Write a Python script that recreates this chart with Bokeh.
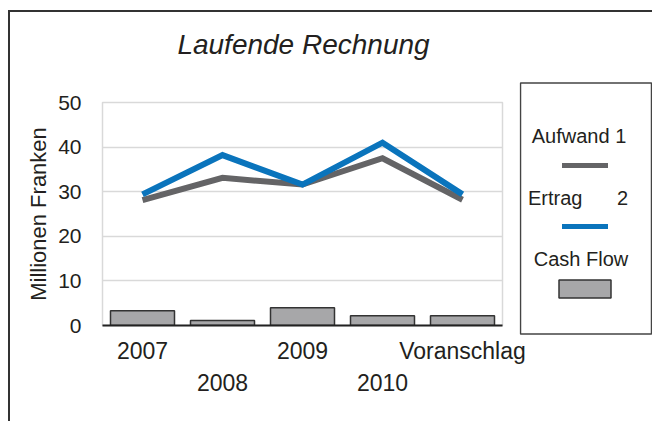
from bokeh.plotting import figure
from bokeh.layouts import row, column
from bokeh.models import (Range1d, FactorRange, CategoricalAxis, ColumnDataSource,
                          FixedTicker, CustomJSTickFormatter)
from bokeh.core.properties import value
from bokeh.embed import file_html
from bokeh.resources import INLINE

categories = ["2007", "2008", "2009", "2010", "Voranschlag"]
aufwand = [28.1, 33.1, 31.6, 37.5, 28.2]
ertrag = [29.4, 38.2, 31.6, 41.0, 29.4]
cash_flow = [3.3, 1.1, 4.0, 2.2, 2.2]
y_ticks = [0, 10, 20, 30, 40, 50]
row1_labels = ["2007", "2009", "Voranschlag"]
row2_labels = ["2008", "2010"]

title_text = "Laufende Rechnung"
y_label = "Millionen Franken"
legend_names = ["Aufwand 1", "Ertrag", "2", "Cash Flow"]

FONT = "Liberation Sans"
TXT = "#231f20"
GRAY = "#646466"
BLUE = "#0a74bc"
BAR = "#a7a7a9"


def blank_canvas(w, h, fill="white", **kw):
    f = figure(width=w, height=h, x_range=Range1d(0, w), y_range=Range1d(h, 0),
               output_backend="svg", toolbar_location=None,
               min_border_left=0, min_border_right=0, min_border_top=0, min_border_bottom=0,
               **kw)
    f.frame_align = False
    f.axis.visible = False
    f.grid.grid_line_color = None
    f.outline_line_color = None
    f.background_fill_color = fill
    f.border_fill_color = fill
    return f


# ---- title strip
tf = blank_canvas(642, 69)
tf.text(x=[293], y=[31.5], text=[title_text], text_font=value(FONT),
        text_font_size="28px", text_font_style="italic", text_color=TXT,
        text_align="center", text_baseline="alphabetic")

# ---- main chart
src = ColumnDataSource(dict(cat=categories, aufwand=aufwand, ertrag=ertrag, cash=cash_flow))

p = figure(width=523, height=340,
           x_range=FactorRange(factors=categories),
           y_range=Range1d(0, 50),
           output_backend="svg", toolbar_location=None,
           min_border_left=92, min_border_right=31,
           min_border_top=21, min_border_bottom=96)
p.frame_align = False
p.background_fill_color = "white"
p.border_fill_color = "white"
p.outline_line_color = "#d9d9d9"
p.outline_line_width = 1.5

p.vbar(x="cat", top="cash", width=0.8, source=src,
       fill_color=BAR, line_color="#333333", line_width=1.5)
p.line(x="cat", y="aufwand", source=src, line_width=6, line_color=GRAY, line_join="miter")
p.line(x="cat", y="ertrag", source=src, line_width=6, line_color=BLUE, line_join="miter")

p.xgrid.grid_line_color = None
p.ygrid.grid_line_color = "#d9d9d9"
p.ygrid.grid_line_width = 1.5

ya = p.yaxis[0]
ya.ticker = FixedTicker(ticks=y_ticks)
ya.axis_line_color = None
ya.major_tick_line_color = None
ya.minor_tick_line_color = None
ya.major_label_standoff = 15
ya.major_label_text_font = FONT
ya.major_label_text_font_size = "21px"
ya.major_label_text_color = TXT
ya.axis_label = y_label
ya.axis_label_text_font = FONT
ya.axis_label_text_font_size = "22px"
ya.axis_label_text_font_style = "normal"
ya.axis_label_text_color = TXT
ya.axis_label_standoff = 4

pick_code = "return keep.includes(tick) ? tick : ''"

xa = p.xaxis[0]
xa.axis_line_color = "#222222"
xa.axis_line_width = 2
xa.major_tick_line_color = None
xa.minor_tick_line_color = None
xa.major_label_standoff = 6
xa.major_label_text_font = FONT
xa.major_label_text_font_size = "23px"
xa.major_label_text_color = TXT
xa.formatter = CustomJSTickFormatter(args=dict(keep=row1_labels), code=pick_code)

xa2 = CategoricalAxis(axis_line_color=None, major_tick_line_color=None,
                      minor_tick_line_color=None, major_label_standoff=1,
                      major_label_text_font=FONT, major_label_text_font_size="23px",
                      major_label_text_color=TXT,
                      formatter=CustomJSTickFormatter(args=dict(keep=row2_labels), code=pick_code))
p.add_layout(xa2, "below")

# ---- legend panel (transparent canvas, slightly overlapping the chart's right margin)
lf = blank_canvas(133, 340, fill=None, margin=(0, 0, 0, -14))
lf.quad(left=[1], right=[132], top=[1.5], bottom=[252.5],
        fill_color="white", line_color="#444444", line_width=1.5)
lf.text(x=[59.5, 8.5, 97.5, 61.5], y=[54, 116, 116, 177.5], text=legend_names,
        text_font=value(FONT), text_font_size="20px", text_color=TXT,
        text_align=["center", "left", "left", "center"], text_baseline="alphabetic")
lf.segment(x0=[42.5, 42.5], y0=[84, 145], x1=[88.5, 88.5], y1=[84, 145],
           line_color=[GRAY, BLUE], line_width=5)
lf.quad(left=[39.5], right=[91.5], top=[198.5], bottom=[216.5],
        fill_color=BAR, line_color="#333333", line_width=1.5)

layout = column(tf, row(p, lf),
                styles={"border-left": "2.5px solid #333333",
                        "border-top": "2.5px solid #333333",
                        "margin-left": "8px", "margin-top": "10px"})

open("out.html", "w").write(file_html(layout, INLINE))
